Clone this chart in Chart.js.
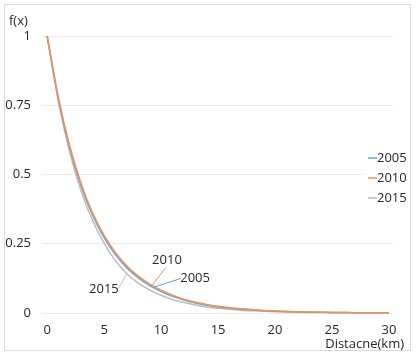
<!DOCTYPE html>
<html><head><meta charset="utf-8">
<script src="https://cdn.jsdelivr.net/npm/chart.js@4.4.0/dist/chart.umd.min.js"></script>
<style>html,body{margin:0;padding:0;background:#fff}#wrap{width:417px;height:363px}</style>
</head><body><div id="wrap"><canvas id="c" width="417" height="363"></canvas></div>
<script>
const distances = [0,1,2,3,4,5,6,7,8,9,10,11,12,13,14,15,16,17,18,19,20,21,22,23,24,25,26,27,28,29,30];
const series2005 = [1,0.77,0.593,0.457,0.352,0.272,0.21,0.163,0.127,0.099,0.077,0.06,0.047,0.036,0.028,0.022,0.017,0.0135,0.0106,0.0083,0.0065,0.0051,0.004,0.0031,0.0024,0.0019,0.0015,0.0011,0.0009,0.0007,0.0005];
const series2010 = [1,0.775,0.6,0.465,0.36,0.28,0.218,0.17,0.133,0.104,0.082,0.064,0.05,0.039,0.031,0.024,0.019,0.015,0.012,0.0094,0.0074,0.0058,0.0046,0.0036,0.0028,0.0022,0.0017,0.0013,0.001,0.0008,0.0006];
const series2015 = [1,0.76,0.577,0.438,0.333,0.252,0.188,0.142,0.108,0.083,0.064,0.049,0.038,0.029,0.022,0.017,0.0135,0.0102,0.0079,0.0061,0.0047,0.0036,0.0028,0.0021,0.0016,0.0013,0.001,0.0008,0.0006,0.0005,0.0004];
const seriesNames = ['2005','2010','2015'];
const xTicks = [0,5,10,15,20,25,30];
const yTicks = [0,0.25,0.5,0.75,1];
const yTickLabels = ['0','0.25','0.5','0.75','1'];
const yTitle = 'f(x)';
const xTitle = 'Distacne(km)';

const colors = ['#6aa4d8','#ee9256','#bdbdbd'];
const FONT = "'Open Sans', 'Noto Sans', sans-serif";
const TXT = '#262626';

function pts(arr){ return distances.map((d,i)=>({x:d,y:arr[i]})); }

const extras = {
  id:'extras',
  beforeDraw(chart){
    const ctx = chart.ctx;
    ctx.save();
    ctx.fillStyle='#fff'; ctx.fillRect(0,0,chart.width,chart.height);
    ctx.strokeStyle='#d9d9d9'; ctx.lineWidth=1;
    ctx.strokeRect(4.5,4.5,406,346);
    ctx.restore();
  },
  afterDraw(chart){
    const ctx = chart.ctx;
    ctx.save();
    ctx.font = "13px " + FONT;
    ctx.fillStyle = TXT;
    ctx.textBaseline='middle';
    ctx.textAlign='left';
    ctx.fillText(yTitle, 9, 21);
    ctx.textAlign='right';
    ctx.fillText(xTitle, 404, 344);
    // legend box
    ctx.fillStyle='#fff';
    ctx.fillRect(363,146,47,64);
    ctx.textAlign='left';
    const ly=[158,178,198];
    chart.data.datasets.forEach((ds,i)=>{
      ctx.strokeStyle=ds.borderColor; ctx.lineWidth=1.5;
      ctx.beginPath(); ctx.moveTo(368,ly[i]); ctx.lineTo(377,ly[i]); ctx.stroke();
      ctx.fillStyle=TXT;
      ctx.fillText(ds.label,377,ly[i]+0.5);
    });
    // data labels with leader lines
    const anchors = [
      {ds:0, x:9.3, dx:42, dy:-9, lx:-14, ly:0},
      {ds:1, x:9.2, dx:15, dy:-25, lx:-1, ly:7},
      {ds:2, x:7.0, dx:-23, dy:16, lx:15, ly:-2}
    ];
    anchors.forEach(a=>{
      const meta = chart.getDatasetMeta(a.ds);
      const i0 = Math.floor(a.x), f = a.x - i0;
      const p0 = meta.data[i0], p1 = meta.data[i0+1];
      const px = p0.x + (p1.x-p0.x)*f, py = p0.y + (p1.y-p0.y)*f;
      const tx = px + a.dx, ty = py + a.dy;
      ctx.strokeStyle = chart.data.datasets[a.ds].borderColor; ctx.lineWidth=1;
      ctx.beginPath(); ctx.moveTo(px,py); ctx.lineTo(tx + a.lx, ty + a.ly); ctx.stroke();
      ctx.fillStyle=TXT; ctx.textAlign='center';
      ctx.fillText(chart.data.datasets[a.ds].label, tx, ty);
    });
    ctx.restore();
  }
};

new Chart(document.getElementById('c'), {
  type:'line',
  data:{
    datasets:[
      {label:seriesNames[0], data:pts(series2005), borderColor:colors[0], order:1},
      {label:seriesNames[1], data:pts(series2010), borderColor:colors[1], order:0},
      {label:seriesNames[2], data:pts(series2015), borderColor:colors[2], order:2}
    ].map(d=>Object.assign(d,{borderWidth:1.5,pointRadius:0,fill:false,cubicInterpolationMode:'monotone',clip:6}))
  },
  options:{
    responsive:false, animation:false, devicePixelRatio:1,
    layout:{padding:{left:0,right:24,top:36,bottom:0}},
    plugins:{legend:{display:false},tooltip:{enabled:false},title:{display:false}},
    scales:{
      x:{type:'linear', min:-0.45, max:30.35,
        afterBuildTicks(s){ s.ticks = xTicks.map(v=>({value:v})); },
        afterFit(s){ s.height = 50; },
        grid:{display:false, drawTicks:false},
        border:{display:false},
        ticks:{padding:9, color:TXT, font:{family:FONT,size:13}, maxRotation:0, autoSkip:false,
          callback:(v)=>String(v)}
      },
      y:{type:'linear', min:0, max:1,
        afterBuildTicks(s){ s.ticks = yTicks.map(v=>({value:v})); },
        afterFit(s){ s.width = 42; },
        grid:{color:'#ebebeb', lineWidth:1, drawTicks:false},
        border:{display:false},
        ticks:{padding:11, color:TXT, font:{family:FONT,size:13}, autoSkip:false,
          callback:(v)=>yTickLabels[yTicks.indexOf(v)]}
      }
    }
  },
  plugins:[extras]
});
</script>
</body></html>
